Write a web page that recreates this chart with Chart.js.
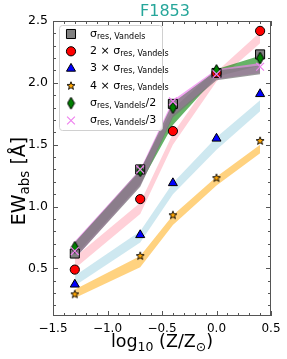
<!DOCTYPE html>
<html>
<head>
<meta charset="utf-8">
<script src="https://cdn.jsdelivr.net/npm/chart.js@4/dist/chart.umd.min.js"></script>
<style>
html,body{margin:0;padding:0;background:#fff}
#wrap{width:287px;height:359px}
</style>
</head>
<body>
<div id="wrap"><canvas id="chart" width="287" height="359"></canvas></div>
<script>
// metallicity grid
const logZ=[-1.3,-0.7,-0.4,0.0,0.4];

// measured EW for each smoothing
const ewSigma=[0.62,1.30,1.83,2.08,2.23];
const ewSigmaX2=[0.49,1.06,1.61,2.08,2.42];
const ewSigmaX3=[0.37,0.77,1.19,1.55,1.91];
const ewSigmaX4=[0.29,0.60,0.93,1.23,1.53];
const ewSigmaHalf=[0.67,1.29,1.80,2.10,2.20];
const ewSigmaThird=[0.64,1.30,1.85,2.07,2.13];

// shaded bands (low / high)
const bandSigmaLo=[0.58,1.16,1.72,2.02,2.07];
const bandSigmaHi=[0.71,1.29,1.84,2.10,2.14];
const bandThirdLo=[0.58,1.17,1.74,2.03,2.08];
const bandThirdHi=[0.72,1.30,1.86,2.11,2.16];
const bandHalfLo=[0.60,1.18,1.66,2.05,2.14];
const bandHalfHi=[0.71,1.30,1.79,2.11,2.22];
const bandX2Lo=[0.50,0.94,1.50,2.01,2.32];
const bandX2Hi=[0.59,1.03,1.59,2.09,2.41];
const bandX3Lo=[0.36,0.71,1.10,1.46,1.77];
const bandX3Hi=[0.44,0.80,1.19,1.56,1.86];
const bandX4Lo=[0.26,0.51,0.85,1.17,1.43];
const bandX4Hi=[0.33,0.60,0.93,1.24,1.50];

const xTicks=[-1.5,-1.0,-0.5,0.0,0.5];
const xTickLabels=['\u22121.5','\u22121.0','\u22120.5','0.0','0.5'];
const yTicks=[0.5,1.0,1.5,2.0,2.5];
const yTickLabels=['0.5','1.0','1.5','2.0','2.5'];

// legend text: [before, subscript, after]
const legendText=[
['\u03c3','res, Vandels',''],
['2 \u00d7 \u03c3','res, Vandels',''],
['3 \u00d7 \u03c3','res, Vandels',''],
['4 \u00d7 \u03c3','res, Vandels',''],
['\u03c3','res, Vandels','/2'],
['\u03c3','res, Vandels','/3']
];

const FONT='"DejaVu Sans", sans-serif';

function pts(ys){return logZ.map((x,i)=>({x:x,y:ys[i]}));}

// custom marker images
function starImg(r){
  const c=document.createElement('canvas');
  const s=Math.ceil(r*2+3);c.width=s;c.height=s;
  const g=c.getContext('2d');
  g.beginPath();
  for(let i=0;i<10;i++){
    const a=-Math.PI/2+i*Math.PI/5;
    const rr=i%2?r*0.42:r;
    g.lineTo(s/2+rr*Math.cos(a),s/2+rr*Math.sin(a));
  }
  g.closePath();
  g.fillStyle='#ffa500';g.fill();
  g.lineWidth=0.9;g.strokeStyle='#000';g.stroke();
  return c;
}
function diamondImg(w,h){
  const c=document.createElement('canvas');
  c.width=w+2;c.height=h+2;
  const g=c.getContext('2d');
  g.beginPath();
  g.moveTo(c.width/2,1);g.lineTo(c.width-1,c.height/2);
  g.lineTo(c.width/2,c.height-1);g.lineTo(1,c.height/2);g.closePath();
  g.fillStyle='#008000';g.fill();
  g.lineWidth=1;g.strokeStyle='#000';g.stroke();
  return c;
}
const star=starImg(4.2);
const diamond=diamondImg(7,12);

function band(lo,hi,color,order){
  const base={showLine:true,pointRadius:0,borderWidth:0,borderColor:'transparent',tension:0,order:order};
  return [
    Object.assign({},base,{data:pts(lo),fill:false}),
    Object.assign({},base,{data:pts(hi),fill:'-1',backgroundColor:color})
  ];
}
function marker(ys,style,radius,bg,border,bw,order){
  return {data:pts(ys),showLine:false,pointStyle:style,pointRadius:radius,pointHoverRadius:radius,
    pointBackgroundColor:bg,pointBorderColor:border,pointBorderWidth:bw,order:order};
}

const markerSets=[
  marker(ewSigma,'rect',6.4,'#808080','#000',1,6),
  marker(ewSigmaX2,'circle',4.6,'#ff0000','#000',1,5),
  marker(ewSigmaX3,'triangle',5.2,'#0000ff','#000',1,4),
  marker(ewSigmaX4,star,4,'#ffa500','#000',1,3),
  marker(ewSigmaHalf,diamond,6,'#008000','#000',1,2),
  marker(ewSigmaThird,'crossRot',5.5,'#ee82ee','#ee82ee',1.2,1)
];

const datasets=[].concat(
  band(bandSigmaLo,bandSigmaHi,'rgba(120,120,120,0.75)',11),
  band(bandThirdLo,bandThirdHi,'rgba(238,130,238,0.7)',12),
  band(bandHalfLo,bandHalfHi,'rgba(0,128,0,0.6)',13),
  band(bandX2Lo,bandX2Hi,'rgba(255,192,203,0.75)',14),
  band(bandX3Lo,bandX3Hi,'rgba(173,216,230,0.6)',15),
  band(bandX4Lo,bandX4Hi,'rgba(255,165,0,0.5)',16),
  markerSets
);

// rich text with subscripts: parts = [[text,size,dy],...]
function richWidth(ctx,parts){
  let w=0;
  parts.forEach(p=>{ctx.font=p[1]+'px '+FONT;w+=ctx.measureText(p[0]).width;});
  return w;
}
function drawRich(ctx,parts,x,y){
  parts.forEach(p=>{
    ctx.font=p[1]+'px '+FONT;
    ctx.fillText(p[0],x,y+p[2]);
    x+=ctx.measureText(p[0]).width;
  });
}

const decor={
  id:'decor',
  afterDraw(chart){
    const ctx=chart.ctx, a=chart.chartArea;
    const xs=chart.scales.x, ys=chart.scales.y;
    ctx.save();
    // frame
    ctx.strokeStyle='#555';ctx.lineWidth=1;
    ctx.strokeRect(a.left+0.5,a.top+0.5,a.right-a.left-1,a.bottom-a.top-1);
    // inward ticks on all sides
    ctx.beginPath();
    for(let v=-1.5;v<=0.501;v+=0.1){
      const p=Math.round(xs.getPixelForValue(v))+0.5;
      const major=Math.abs(v*2-Math.round(v*2))<0.01;
      const L=major?5:3;
      ctx.moveTo(p,a.bottom);ctx.lineTo(p,a.bottom-L);
      ctx.moveTo(p,a.top);ctx.lineTo(p,a.top+L);
    }
    for(let v=0.2;v<=2.501;v+=0.1){
      const p=Math.round(ys.getPixelForValue(v))+0.5;
      const major=Math.abs(v*2-Math.round(v*2))<0.01;
      const L=major?5:3;
      ctx.moveTo(a.left,p);ctx.lineTo(a.left+L,p);
      ctx.moveTo(a.right,p);ctx.lineTo(a.right-L,p);
    }
    ctx.stroke();

    // title
    ctx.fillStyle='#26a69a';
    ctx.font='16px '+FONT;ctx.textAlign='center';ctx.textBaseline='alphabetic';
    ctx.fillText('F1853',165,16);

    // axis titles
    ctx.fillStyle='#000';ctx.textAlign='left';
    const xt=[['log',17.5,0],['10',12.5,3.5],[' (Z/Z',17.5,0],['\u2299',12.5,3.5],[')',17.5,0]];
    const xw=richWidth(ctx,xt);
    drawRich(ctx,xt,(a.left+a.right)/2-xw/2,347);
    const yt=[['EW',19,0],['abs',13.5,4],[' [\u00c5]',19,0]];
    const yw=richWidth(ctx,yt);
    ctx.save();
    ctx.translate(25,181);ctx.rotate(-Math.PI/2);
    drawRich(ctx,yt,-yw/2,0);
    ctx.restore();

    // legend
    ctx.beginPath();
    ctx.roundRect(59.5,25.5,103,105,3);
    ctx.fillStyle='rgba(255,255,255,0.85)';ctx.fill();
    ctx.strokeStyle='#d0d0d0';ctx.stroke();
    markerSets.forEach((ds,i)=>{
      const y=34+i*17.3;
      ctx.fillStyle=ds.pointBackgroundColor;ctx.strokeStyle=ds.pointBorderColor;
      ctx.lineWidth=ds.pointBorderWidth;
      Chart.helpers.drawPoint(ctx,{pointStyle:ds.pointStyle,radius:ds.pointRadius,borderWidth:ds.pointBorderWidth,rotation:0},71,y);
      const t=legendText[i];
      ctx.fillStyle='#000';ctx.textBaseline='middle';
      drawRich(ctx,[[t[0],11,0],[t[1],8,2.5],[t[2],11,0]],90,y);
    });
    ctx.restore();
  }
};

new Chart(document.getElementById('chart'),{
  type:'line',
  data:{datasets:datasets},
  options:{
    responsive:false,animation:false,
    layout:{padding:{top:21,right:16,left:0,bottom:0}},
    plugins:{legend:{display:false},tooltip:{enabled:false},title:{display:false}},
    elements:{line:{tension:0}},
    scales:{
      x:{type:'linear',min:-1.5,max:0.5,
        afterFit(s){s.height=43;},
        afterBuildTicks(s){s.ticks=xTicks.map(v=>({value:v}));},
        grid:{display:false,drawTicks:false},border:{display:false},
        ticks:{padding:6,color:'#000',font:{family:FONT,size:12},maxRotation:0,
          callback:(v,i)=>xTickLabels[i]}},
      y:{type:'linear',min:0.115,max:2.5,
        afterFit(s){s.width=53;},
        afterBuildTicks(s){s.ticks=yTicks.map(v=>({value:v}));},
        grid:{display:false,drawTicks:false},border:{display:false},
        ticks:{padding:5,color:'#000',font:{family:FONT,size:12.5},
          callback:(v,i)=>yTickLabels[i]}}
    }
  },
  plugins:[decor]
});
</script>
</body>
</html>
